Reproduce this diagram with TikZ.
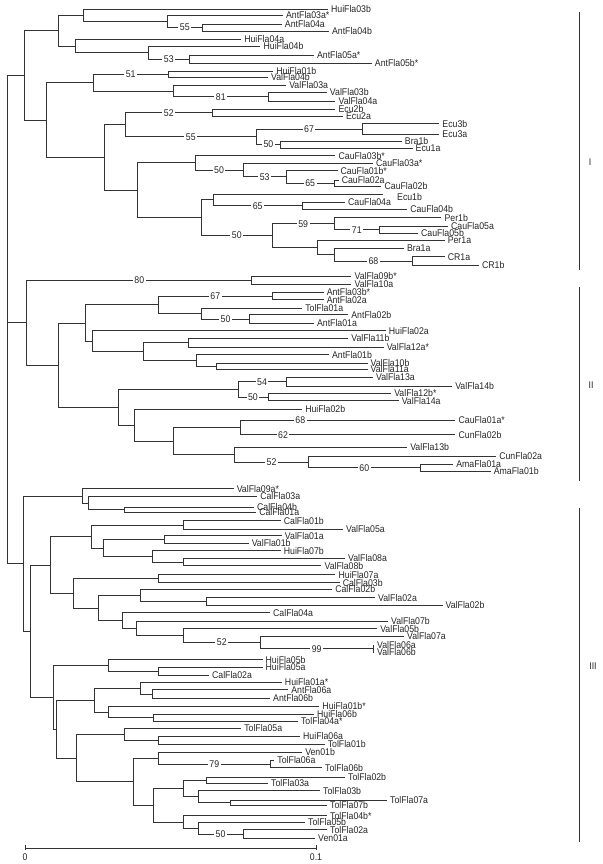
\documentclass[tikz,border=0pt]{standalone}
\usepackage{fontspec}
\newfontfamily\cayfont{Liberation Sans}[FakeStretch=0.9]
\newcommand\cayco{\cayfont\fontsize{8.3}{9}\selectfont}
\tikzset{
	nhanh/.style={line width=.6pt,draw=black!80},
	la/.style={anchor=west,inner xsep=2.5pt,inner ysep=1pt,font=\cayco,text=black!85},
	bs/.style={pos=.75,fill=white,inner sep=1.3pt,font=\cayco,text=black!85},
	nhom/.style={inner sep=1pt,font=\cayco,text=black!85}
}
\begin{document}
\begin{tikzpicture}[x=0.03cm,y=-0.03cm]
	\useasboundingbox (0,0) rectangle (602,864);
	%			Nhóm I
	\coordinate (goc) at (7.5,322.6);
	\coordinate (aA) at (24.6,75.3);	\coordinate (aB) at (57.9,30.6);	\coordinate (aC) at (83.6,15.3);
	\coordinate (aD) at (167.1,21.3);	\coordinate (aE) at (202.5,27.5);	\coordinate (aF) at (75,45.9);
	\coordinate (aG) at (147.9,52.6);	\coordinate (aH) at (189.6,59.2);	\coordinate (aI) at (93.2,82.5);
	\coordinate (aJ) at (168.2,74);	\coordinate (aK) at (173.6,91);	\coordinate (aL) at (267.9,96.7);
	\coordinate (aM) at (46.1,120);	\coordinate (aN) at (103.9,157.5);	\coordinate (aO) at (125.4,124.8);
	\coordinate (aP) at (212.1,112.8);	\coordinate (aQ) at (256.1,136.8);	\coordinate (aR) at (362.1,129);
	\coordinate (aS) at (280.7,144.5);	\coordinate (aT) at (137.1,190.3);	\coordinate (aU) at (195,162.8);
	\coordinate (aV) at (243.2,169.9);	\coordinate (aW) at (286.1,176.8);	\coordinate (aX) at (334.3,182.9);
	\coordinate (aZ) at (201.4,217.7);	\coordinate (aY) at (213.2,199.8);	\coordinate (aAA) at (302.1,205.7);
	\coordinate (aBB) at (272.1,235.6);	\coordinate (aCC) at (334.3,223.7);	\coordinate (aDD) at (379.3,229.7);
	\coordinate (aEE) at (317.1,247.5);	\coordinate (aFF) at (334.3,254.7);	\coordinate (aGG) at (412.5,261);
	\coordinate (tEcu1b) at (382.5,194);
	\node[la] (HuiFla03b) at (327.9,9.3) {HuiFla03b};
	\node[la] (AntFla03as) at (282.9,15) {AntFla03a*};
	\node[la] (AntFla04a) at (281.8,24) {AntFla04a};
	\node[la] (AntFla04b) at (328.9,31) {AntFla04b};
	\node[la] (HuiFla04a) at (241.1,39.3) {HuiFla04a};
	\node[la] (HuiFla04b) at (260.4,46) {HuiFla04b};
	\node[la] (AntFla05as) at (313.9,55) {AntFla05a*};
	\node[la] (AntFla05bs) at (371.8,63.3) {AntFla05b*};
	\node[la] (HuiFla01b) at (273.2,71) {HuiFla01b};
	\node[la] (ValFla04b) at (267.9,77) {ValFla04b};
	\node[la] (ValFla03a) at (286.1,85.3) {ValFla03a};
	\node[la] (ValFla03b) at (326.8,92) {ValFla03b};
	\node[la] (ValFla04a) at (335.4,101.3) {ValFla04a};
	\node[la] (Ecu2b) at (335.4,109.3) {Ecu2b};
	\node[la] (Ecu2a) at (342.9,116.3) {Ecu2a};
	\node[la] (Ecu3b) at (439.3,123.7) {Ecu3b};
	\node[la] (Ecu3a) at (439.3,134.3) {Ecu3a};
	\node[la] (Bra1b) at (401.8,141) {Bra1b};
	\node[la] (Ecu1a) at (412.5,148) {Ecu1a};
	\node[la] (CauFla03bs) at (335.4,155.7) {CauFla03b*};
	\node[la] (CauFla03as) at (372.9,163) {CauFla03a*};
	\node[la] (CauFla01bs) at (337.5,170.7) {CauFla01b*};
	\node[la] (CauFla02a) at (338.6,180) {CauFla02a};
	\node[la] (CauFla02b) at (381.4,186.5) {CauFla02b};
	\node[la] (Ecu1b) at (394,197) {Ecu1b};
	\node[la] (CauFla04a) at (345,202.3) {CauFla04a};
	\node[la] (CauFla04b) at (407.1,209) {CauFla04b};
	\node[la] (Per1b) at (441.4,217.7) {Per1b};
	\node[la] (CauFla05a) at (447.9,226) {CauFla05a};
	\node[la] (CauFla05b) at (417.9,233.3) {CauFla05b};
	\node[la] (Per1a) at (444.6,240.3) {Per1a};
	\node[la] (Bra1a) at (403.9,248.3) {Bra1a};
	\node[la] (CR1a) at (444.6,256.7) {CR1a};
	\node[la] (CR1b) at (478.9,265.3) {CR1b};
	\draw[nhanh] (aA) |- (aB) (aA) |- (aM);
	\draw[nhanh] (aB) |- (aC) (aB) |- (aF);
	\draw[nhanh] (aC) |- (HuiFla03b) (aC) |- (aD);
	\draw[nhanh] (aD) |- (AntFla03as) (aD) |- node[bs]{55} (aE);
	\draw[nhanh] (aE) |- (AntFla04a) (aE) |- (AntFla04b);
	\draw[nhanh] (aF) |- (HuiFla04a) (aF) |- (aG);
	\draw[nhanh] (aG) |- (HuiFla04b) (aG) |- node[bs]{53} (aH);
	\draw[nhanh] (aH) |- (AntFla05as) (aH) |- (AntFla05bs);
	\draw[nhanh] (aM) |- (aI) (aM) |- (aN);
	\draw[nhanh] (aI) |- node[bs]{51} (aJ) (aI) |- (aK);
	\draw[nhanh] (aJ) |- (HuiFla01b) (aJ) |- (ValFla04b);
	\draw[nhanh] (aK) |- (ValFla03a) (aK) |- node[bs]{81} (aL);
	\draw[nhanh] (aL) |- (ValFla03b) (aL) |- (ValFla04a);
	\draw[nhanh] (aN) |- (aO) (aN) |- (aT);
	\draw[nhanh] (aO) |- node[bs]{52} (aP) (aO) |- node[bs]{55} (aQ);
	\draw[nhanh] (aP) |- (Ecu2b) (aP) |- (Ecu2a);
	\draw[nhanh] (aQ) |- node[bs]{67} (aR) (aQ) |- node[bs]{50} (aS);
	\draw[nhanh] (aR) |- (Ecu3b) (aR) |- (Ecu3a);
	\draw[nhanh] (aS) |- (Bra1b) (aS) |- (Ecu1a);
	\draw[nhanh] (aT) |- (aU) (aT) |- (aZ);
	\draw[nhanh] (aU) |- (CauFla03bs) (aU) |- node[bs]{50} (aV);
	\draw[nhanh] (aV) |- (CauFla03as) (aV) |- node[bs]{53} (aW);
	\draw[nhanh] (aW) |- (CauFla01bs) (aW) |- node[bs]{65} (aX);
	\draw[nhanh] (aX) |- (CauFla02a) (aX) |- (CauFla02b);
	\draw[nhanh] (aZ) |- (aY) (aZ) |- node[bs]{50} (aBB);
	\draw[nhanh] (aY) |- (tEcu1b) (aY) |- node[bs]{65} (aAA);
	\draw[nhanh] (aAA) |- (CauFla04a) (aAA) |- (CauFla04b);
	\draw[nhanh] (aBB) |- node[bs]{59} (aCC) (aBB) |- (aEE);
	\draw[nhanh] (aCC) |- (Per1b) (aCC) |- node[bs]{71} (aDD);
	\draw[nhanh] (aDD) |- (CauFla05a) (aDD) |- (CauFla05b);
	\draw[nhanh] (aEE) |- (Per1a) (aEE) |- (aFF);
	\draw[nhanh] (aFF) |- (Bra1a) (aFF) |- node[bs]{68} (aGG);
	\draw[nhanh] (aGG) |- (CR1a) (aGG) |- (CR1b);
	%			Nhóm II
	\coordinate (bR) at (26.8,322.6);	\coordinate (b80) at (251.8,280.2);	\coordinate (bII) at (85.7,322.9);
	\coordinate (bJJ) at (158.6,304.6);	\coordinate (bKK) at (272.1,295.9);	\coordinate (bLL) at (201.4,313.4);
	\coordinate (bMM) at (249.6,318.9);	\coordinate (bNN) at (92.1,341.1);	\coordinate (bOO) at (143.6,351.5);
	\coordinate (bPP) at (188.6,342.7);	\coordinate (bQQ) at (196.1,360.4);	\coordinate (bRR) at (216.4,366.2);
	\coordinate (bHH) at (57.9,365);	\coordinate (bSS) at (117.9,407.2);	\coordinate (bTT) at (237.9,389.3);
	\coordinate (bUU) at (286.1,381.7);	\coordinate (bVV) at (267.9,397);	\coordinate (bWW) at (133.9,425.1);
	\coordinate (bXX) at (173.6,440.9);	\coordinate (bYY) at (240,427.4);	\coordinate (bZZ) at (234.6,454.5);
	\coordinate (bAB) at (308.6,461.9);	\coordinate (bAC) at (420,467.8);
	\node[la] (ValFla09bs) at (351.4,276) {ValFla09b*};
	\node[la] (ValFla10a) at (351.4,284.3) {ValFla10a};
	\node[la] (AntFla03bs) at (323.6,292) {AntFla03b*};
	\node[la] (AntFla02a) at (323.6,299.7) {AntFla02a};
	\node[la] (TolFla01a) at (302.1,308) {TolFla01a};
	\node[la] (AntFla02b) at (348.2,314.7) {AntFla02b};
	\node[la] (AntFla01a) at (313.9,323) {AntFla01a};
	\node[la] (HuiFla02a) at (385.7,330.7) {HuiFla02a};
	\node[la] (ValFla11b) at (348.2,338) {ValFla11b};
	\node[la] (ValFla12as) at (383.6,347.3) {ValFla12a*};
	\node[la] (AntFla01b) at (328.9,354.7) {AntFla01b};
	\node[la] (ValFla10b) at (367.5,363) {ValFla10b};
	\node[la] (ValFla11a) at (367.5,369.3) {ValFla11a};
	\node[la] (ValFla13a) at (372.9,377.3) {ValFla13a};
	\node[la] (ValFla14b) at (452.1,386) {ValFla14b};
	\node[la] (ValFla12bs) at (391.1,393.3) {ValFla12b*};
	\node[la] (ValFla14a) at (398.6,400.7) {ValFla14a};
	\node[la] (HuiFla02b) at (302.1,409.3) {HuiFla02b};
	\node[la] (CauFla01as) at (455.4,420) {CauFla01a*};
	\node[la] (CunFla02b) at (455.4,434.7) {CunFla02b};
	\node[la] (ValFla13b) at (407.1,447) {ValFla13b};
	\node[la] (CunFla02a) at (496.1,456) {CunFla02a};
	\node[la] (AmaFla01a) at (453.2,464.3) {AmaFla01a};
	\node[la] (AmaFla01b) at (490.7,471.3) {AmaFla01b};
	\draw[nhanh] (bR) |- node[bs]{80} (b80) (bR) |- (bHH);
	\draw[nhanh] (b80) |- (ValFla09bs) (b80) |- (ValFla10a);
	\draw[nhanh] (bHH) |- (bII) (bHH) |- (bSS);
	\draw[nhanh] (bII) |- (bJJ) (bII) |- (bNN);
	\draw[nhanh] (bJJ) |- node[bs]{67} (bKK) (bJJ) |- (bLL);
	\draw[nhanh] (bKK) |- (AntFla03bs) (bKK) |- (AntFla02a);
	\draw[nhanh] (bLL) |- (TolFla01a) (bLL) |- node[bs]{50} (bMM);
	\draw[nhanh] (bMM) |- (AntFla02b) (bMM) |- (AntFla01a);
	\draw[nhanh] (bNN) |- (HuiFla02a) (bNN) |- (bOO);
	\draw[nhanh] (bOO) |- (bPP) (bOO) |- (bQQ);
	\draw[nhanh] (bPP) |- (ValFla11b) (bPP) |- (ValFla12as);
	\draw[nhanh] (bQQ) |- (AntFla01b) (bQQ) |- (bRR);
	\draw[nhanh] (bRR) |- (ValFla10b) (bRR) |- (ValFla11a);
	\draw[nhanh] (bSS) |- (bTT) (bSS) |- (bWW);
	\draw[nhanh] (bTT) |- node[bs]{54} (bUU) (bTT) |- node[bs]{50} (bVV);
	\draw[nhanh] (bUU) |- (ValFla13a) (bUU) |- (ValFla14b);
	\draw[nhanh] (bVV) |- (ValFla12bs) (bVV) |- (ValFla14a);
	\draw[nhanh] (bWW) |- (HuiFla02b) (bWW) |- (bXX);
	\draw[nhanh] (bXX) |- (bYY) (bXX) |- (bZZ);
	\draw[nhanh] (bYY) |- node[bs,pos=.64]{68} (CauFla01as) (bYY) |- node[bs,pos=.6]{62} (CunFla02b);
	\draw[nhanh] (bZZ) |- (ValFla13b) (bZZ) |- node[bs]{52} (bAB);
	\draw[nhanh] (bAB) |- (CunFla02a) (bAB) |- node[bs]{60} (bAC);
	\draw[nhanh] (bAC) |- (AmaFla01a) (bAC) |- (AmaFla01b);
	%			Nhóm III
	\coordinate (cR) at (23.6,563.4);	\coordinate (cAD) at (82.5,495.9);	\coordinate (cAE) at (87.9,503);
	\coordinate (cAF) at (124.3,509.7);	\coordinate (cAG) at (30,631);	\coordinate (cAH) at (50.4,564.9);
	\coordinate (cAI) at (91.1,536.4);	\coordinate (cAJ) at (183.2,524.9);	\coordinate (cAK) at (102.9,547.9);
	\coordinate (cAL) at (163.9,539.5);	\coordinate (cAM) at (152.1,556.3);	\coordinate (cAN) at (183.2,561.9);
	\coordinate (cAO) at (72.9,593.3);	\coordinate (cAP) at (158.6,578.7);	\coordinate (cAQ) at (98.6,608);
	\coordinate (cAR) at (140.4,595.4);	\coordinate (cAS) at (206.8,601.5);	\coordinate (cAT) at (122.1,620.5);
	\coordinate (cAU) at (136.1,628.3);	\coordinate (cAV) at (183.2,635.5);	\coordinate (cAW) at (260.4,642.3);
	\coordinate (cAX) at (372.9,648.7);	\coordinate (cAY) at (53.6,697.1);	\coordinate (cBA) at (108.2,665.4);
	\coordinate (cBB) at (158.6,671.2);	\coordinate (cAZ) at (56.8,728.9);	\coordinate (cBC) at (94.3,700);
	\coordinate (cBD) at (140.4,688.1);	\coordinate (cBE) at (152.1,693.9);	\coordinate (cBF) at (108.2,712);
	\coordinate (cBG) at (153.2,717.8);	\coordinate (cBH) at (76.1,757.9);	\coordinate (cBI) at (124.3,734.2);
	\coordinate (cBJ) at (158.6,740);	\coordinate (cBK) at (133,781.7);	\coordinate (cBL) at (158.6,758.1);
	\coordinate (cBM) at (270,763.9);	\coordinate (cBO) at (153,805.2);	\coordinate (cBP) at (183,788.5);
	\coordinate (cBQ) at (206,780.2);	\coordinate (cBR) at (198,796.8);	\coordinate (cBS) at (230,802.8);
	\coordinate (cBT) at (183,821.9);	\coordinate (cBU) at (198,828);	\coordinate (cBV) at (243,833.9);
	\node[la] (ValFla09as) at (233.6,488.7) {ValFla09a*};
	\node[la] (CalFla03a) at (257.1,496.3) {CalFla03a};
	\node[la] (CalFla04b) at (253.9,507) {CalFla04b};
	\node[la] (CalFla01a) at (256.1,512.3) {CalFla01a};
	\node[la] (CalFla01b) at (280.7,520.7) {CalFla01b};
	\node[la] (ValFla05a) at (342.9,529) {ValFla05a};
	\node[la] (ValFla01a) at (281.8,535.7) {ValFla01a};
	\node[la] (ValFla01b) at (248.6,543.3) {ValFla01b};
	\node[la] (HuiFla07b) at (280.7,550.7) {HuiFla07b};
	\node[la] (ValFla08a) at (345,558) {ValFla08a};
	\node[la] (ValFla08b) at (321.4,565.7) {ValFla08b};
	\node[la] (HuiFla07a) at (335.4,574.7) {HuiFla07a};
	\node[la] (CalFla03b) at (339.6,582.7) {CalFla03b};
	\node[la] (CalFla02b) at (332.1,589.3) {CalFla02b};
	\node[la] (ValFla02a) at (375,597.7) {ValFla02a};
	\node[la] (ValFla02b) at (442.5,605.3) {ValFla02b};
	\node[la] (CalFla04a) at (270,612.7) {CalFla04a};
	\node[la] (ValFla07b) at (387.9,621) {ValFla07b};
	\node[la] (ValFla05b) at (377.1,628.7) {ValFla05b};
	\node[la] (ValFla07a) at (403.9,636) {ValFla07a};
	\node[la] (ValFla06a) at (373.9,645.3) {ValFla06a};
	\node[la] (ValFla06b) at (373.9,652) {ValFla06b};
	\node[la] (HuiFla05b) at (262.5,659.7) {HuiFla05b};
	\node[la] (HuiFla05a) at (262.5,667) {HuiFla05a};
	\node[la] (CalFla02a) at (208.9,675.3) {CalFla02a};
	\node[la] (HuiFla01as) at (281.8,682.3) {HuiFla01a*};
	\node[la] (AntFla06a) at (288.2,689.7) {AntFla06a};
	\node[la] (AntFla06b) at (270,698) {AntFla06b};
	\node[la] (HuiFla01bs) at (319.3,706.3) {HuiFla01b*};
	\node[la] (HuiFla06b) at (313.9,714) {HuiFla06b};
	\node[la] (TolFla04as) at (297.9,721.5) {TolFla04a*};
	\node[la] (TolFla05a) at (241.1,728.3) {TolFla05a};
	\node[la] (HuiFla06a) at (300,736) {HuiFla06a};
	\node[la] (TolFla01b) at (324.6,744) {TolFla01b};
	\node[la] (Ven01b) at (302.1,752.3) {Ven01b};
	\node[la] (TolFla06a) at (274.3,760) {TolFla06a};
	\node[la] (TolFla06b) at (322,767.7) {TolFla06b};
	\node[la] (TolFla02b) at (345,777.3) {TolFla02b};
	\node[la] (TolFla03a) at (268,783) {TolFla03a};
	\node[la] (TolFla03b) at (320,790.7) {TolFla03b};
	\node[la] (TolFla07a) at (387,800.3) {TolFla07a};
	\node[la] (TolFla07b) at (327,805.3) {TolFla07b};
	\node[la] (TolFla04bs) at (327,815.7) {TolFla04b*};
	\node[la] (TolFla05b) at (305,822) {TolFla05b};
	\node[la] (TolFla02a) at (327,829.7) {TolFla02a};
	\node[la] (Ven01a) at (315,838) {Ven01a};
	\draw[nhanh] (cR) |- (cAD) (cR) |- (cAG);
	\draw[nhanh] (cAD) |- (ValFla09as) (cAD) |- (cAE);
	\draw[nhanh] (cAE) |- (CalFla03a) (cAE) |- (cAF);
	\draw[nhanh] (cAF) |- (CalFla04b) (cAF) |- (CalFla01a);
	\draw[nhanh] (cAG) |- (cAH) (cAG) |- (cAY);
	\draw[nhanh] (cAH) |- (cAI) (cAH) |- (cAO);
	\draw[nhanh] (cAI) |- (cAJ) (cAI) |- (cAK);
	\draw[nhanh] (cAJ) |- (CalFla01b) (cAJ) |- (ValFla05a);
	\draw[nhanh] (cAK) |- (cAL) (cAK) |- (cAM);
	\draw[nhanh] (cAL) |- (ValFla01a) (cAL) |- (ValFla01b);
	\draw[nhanh] (cAM) |- (HuiFla07b) (cAM) |- (cAN);
	\draw[nhanh] (cAN) |- (ValFla08a) (cAN) |- (ValFla08b);
	\draw[nhanh] (cAO) |- (cAP) (cAO) |- (cAQ);
	\draw[nhanh] (cAP) |- (HuiFla07a) (cAP) |- (CalFla03b);
	\draw[nhanh] (cAQ) |- (cAR) (cAQ) |- (cAT);
	\draw[nhanh] (cAR) |- (CalFla02b) (cAR) |- (cAS);
	\draw[nhanh] (cAS) |- (ValFla02a) (cAS) |- (ValFla02b);
	\draw[nhanh] (cAT) |- (CalFla04a) (cAT) |- (cAU);
	\draw[nhanh] (cAU) |- (ValFla07b) (cAU) |- (cAV);
	\draw[nhanh] (cAV) |- (ValFla05b) (cAV) |- node[bs]{52} (cAW);
	\draw[nhanh] (cAW) |- (ValFla07a) (cAW) |- node[bs]{99} (cAX);
	\draw[nhanh] (cAX) |- (ValFla06a) (cAX) |- (ValFla06b);
	\draw[nhanh] (cAY) |- (cBA) (cAY) |- (cAZ);
	\draw[nhanh] (cBA) |- (HuiFla05b) (cBA) |- (cBB);
	\draw[nhanh] (cBB) |- (HuiFla05a) (cBB) |- (CalFla02a);
	\draw[nhanh] (cAZ) |- (cBC) (cAZ) |- (cBH);
	\draw[nhanh] (cBC) |- (cBD) (cBC) |- (cBF);
	\draw[nhanh] (cBD) |- (HuiFla01as) (cBD) |- (cBE);
	\draw[nhanh] (cBE) |- (AntFla06a) (cBE) |- (AntFla06b);
	\draw[nhanh] (cBF) |- (HuiFla01bs) (cBF) |- (cBG);
	\draw[nhanh] (cBG) |- (HuiFla06b) (cBG) |- (TolFla04as);
	\draw[nhanh] (cBH) |- (cBI) (cBH) |- (cBK);
	\draw[nhanh] (cBI) |- (TolFla05a) (cBI) |- (cBJ);
	\draw[nhanh] (cBJ) |- (HuiFla06a) (cBJ) |- (TolFla01b);
	\draw[nhanh] (cBK) |- (cBL) (cBK) |- (cBO);
	\draw[nhanh] (cBL) |- (Ven01b) (cBL) |- node[bs]{79} (cBM);
	\draw[nhanh] (cBM) |- (TolFla06a) (cBM) |- (TolFla06b);
	\draw[nhanh] (cBO) |- (cBP) (cBO) |- (cBT);
	\draw[nhanh] (cBP) |- (cBQ) (cBP) |- (cBR);
	\draw[nhanh] (cBQ) |- (TolFla02b) (cBQ) |- (TolFla03a);
	\draw[nhanh] (cBR) |- (TolFla03b) (cBR) |- (cBS);
	\draw[nhanh] (cBS) |- (TolFla07a) (cBS) |- (TolFla07b);
	\draw[nhanh] (cBT) |- (TolFla04bs) (cBT) |- (cBU);
	\draw[nhanh] (cBU) |- (TolFla05b) (cBU) |- node[bs]{50} (cBV);
	\draw[nhanh] (cBV) |- (TolFla02a) (cBV) |- (Ven01a);
	%			Gốc
	\draw[nhanh] (goc) |- (aA) (goc) |- (bR) (goc) |- (cR);
	%			Vạch nhóm
	\draw[nhanh] (579,12) -- (579,270) (579,287) -- (579,481) (579,508) -- (579,842);
	\node[nhom] (nI) at (590,162) {I};
	\node[nhom] (nII) at (591,385) {II};
	\node[nhom] (nIII) at (593,666) {III};
	%			Thước tỉ lệ
	\draw[nhanh] (25,848) -- (316,848) (25,845) -- (25,850) (316,845) -- (316,850);
	\node[nhom] (t0) at (25,857) {0};
	\node[nhom] (t1) at (316,857) {0.1};
\end{tikzpicture}
\end{document}
